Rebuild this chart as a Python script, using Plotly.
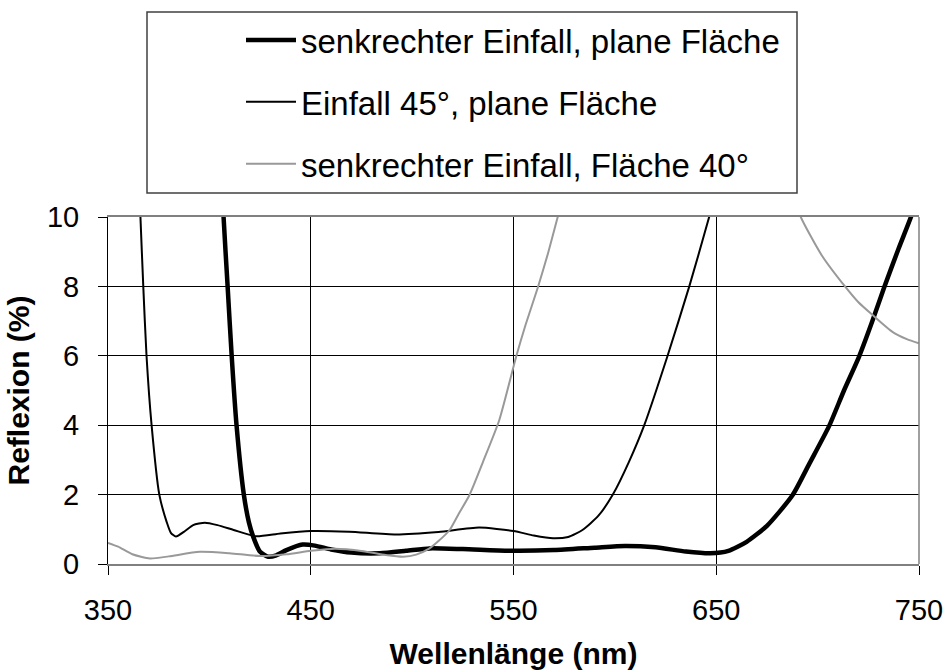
import plotly.graph_objects as go

# Wavelength (nm) and reflectance (%) for the three coating measurements
wl_normal_plane = [406.5, 407, 409, 411, 413.4, 417, 419.5, 421.6, 425, 429, 433, 438, 446, 452,
                   460, 470, 484, 497, 508.6, 525, 550, 570, 590, 605, 620, 635, 647, 656,
                   665, 675, 687.6, 696, 705.7, 713, 720.4, 727, 732.8, 740, 746, 748]
refl_normal_plane = [10.8, 10.0, 8.0, 6.0, 4.0, 2.0, 1.2, 0.79, 0.35, 0.21, 0.25, 0.40, 0.56, 0.53,
                     0.42, 0.33, 0.31, 0.38, 0.45, 0.43, 0.38, 0.40, 0.47, 0.52, 0.48, 0.36, 0.31, 0.38,
                     0.64, 1.1, 1.98, 2.9, 3.98, 5.0, 5.97, 7.0, 7.97, 9.1, 10.0, 10.4]

wl_45_plane = [365.5, 366, 367.4, 369, 371.5, 375.3, 379, 381, 383.5, 388, 392, 397.8, 404, 412,
               423, 435, 450, 469, 492, 513, 533, 550, 560, 569.5, 577, 584, 592, 599, 607,
               614.5, 626, 636.7, 646.5, 649]
refl_45_plane = [10.8, 10.0, 8.0, 6.0, 4.0, 2.0, 1.2, 0.9, 0.79, 0.95, 1.12, 1.19, 1.12, 0.98,
                 0.80, 0.88, 0.95, 0.93, 0.85, 0.92, 1.05, 0.95, 0.82, 0.74, 0.78, 0.98, 1.4, 2.0, 2.95,
                 4.0, 6.0, 8.0, 10.0, 10.6]

wl_normal_40 = [350, 355, 362, 370.7, 380, 395.3, 410, 425, 438, 450, 462, 475.8, 487, 495.5,
                502, 508.6, 513, 518.5, 523, 528.3, 535, 543, 551.3, 556, 562, 567, 571.8, 574,
                None, 689, 691.7, 702, 713.9, 720, 727, 736.9, 744, 750]
refl_normal_40 = [0.61, 0.5, 0.28, 0.16, 0.22, 0.35, 0.31, 0.23, 0.28, 0.38, 0.44, 0.37, 0.26, 0.21,
                  0.27, 0.45, 0.66, 0.98, 1.45, 1.99, 2.95, 4.15, 5.97, 6.9, 7.97, 8.95, 10.0, 10.5,
                  None, 10.5, 10.0, 8.9, 7.97, 7.55, 7.18, 6.69, 6.48, 6.36]

series_names = ["senkrechter Einfall, plane Fläche",
                "Einfall 45°, plane Fläche",
                "senkrechter Einfall, Fläche 40°"]

x_ticks = [350, 450, 550, 650, 750]
y_ticks = [0, 2, 4, 6, 8, 10]

FONT = "Liberation Sans, Arial, sans-serif"

fig = go.Figure()
fig.add_trace(go.Scatter(x=wl_normal_plane, y=refl_normal_plane, name=series_names[0],
                         mode="lines", line=dict(color="black", width=4.5, shape="spline", smoothing=0.6),
                         legendgroup="a"))
fig.add_trace(go.Scatter(x=wl_45_plane, y=refl_45_plane, name=series_names[1],
                         mode="lines", line=dict(color="black", width=2, shape="spline", smoothing=0.6),
                         legendgroup="b"))
fig.add_trace(go.Scatter(x=wl_normal_40, y=refl_normal_40, name=series_names[2],
                         mode="lines", line=dict(color="#999999", width=2, shape="spline", smoothing=0.6),
                         connectgaps=False, legendgroup="c"))

# plot area: 108..919 px horizontally, 217..564 px vertically
W, H = 947, 670
L, R, T, B = 108, 28, 217, 106
pw, ph = W - L - R, H - T - B

def px_x(p):
    return (p - L) / pw

def px_y(p):
    return (H - B - p) / ph

fig.update_layout(
    width=W, height=H,
    margin=dict(l=L, r=R, t=T, b=B),
    paper_bgcolor="white", plot_bgcolor="white",
    font=dict(family=FONT, size=29, color="black"),
    showlegend=True,
    legend=dict(
        x=px_x(241), y=px_y(12), xanchor="left", yanchor="top",
        bgcolor="rgba(0,0,0,0)", borderwidth=0,
        font=dict(family=FONT, size=33, color="black"),
        itemwidth=50, tracegroupgap=16, traceorder="grouped",
    ),
    xaxis=dict(
        range=[350, 750], tickvals=x_ticks, ticktext=[str(v) for v in x_ticks],
        showgrid=True, gridcolor="black", gridwidth=1,
        showline=True, linecolor="#808080", linewidth=1.5, mirror=True,
        ticks="outside", ticklen=9, tickcolor="black", tickwidth=1,
        ticklabelstandoff=10, zeroline=False,
        title=dict(text="<b>Wellenlänge (nm)</b>", font=dict(size=30), standoff=23),
        automargin=False,
    ),
    yaxis=dict(
        range=[0, 10], tickvals=y_ticks, ticktext=[str(v) for v in y_ticks],
        showgrid=True, gridcolor="black", gridwidth=1,
        showline=True, linecolor="black", linewidth=1, mirror=False,
        ticks="outside", ticklen=9, tickcolor="black", tickwidth=1,
        ticklabelstandoff=13, zeroline=False,
        title=dict(text="<b>Reflexion (%)</b>", font=dict(size=30), standoff=8),
        automargin=False,
    ),
    shapes=[
        # legend frame
        dict(type="rect", xref="paper", yref="paper",
             x0=px_x(147), x1=px_x(797), y0=px_y(193), y1=px_y(12),
             line=dict(color="#404040", width=1.5), fillcolor="rgba(0,0,0,0)", layer="above"),
        # right border of the plot area
        dict(type="line", xref="paper", yref="paper", x0=1, x1=1, y0=0, y1=1,
             line=dict(color="#808080", width=1.5), layer="above"),
    ],
)

fig.write_html("out.html")
